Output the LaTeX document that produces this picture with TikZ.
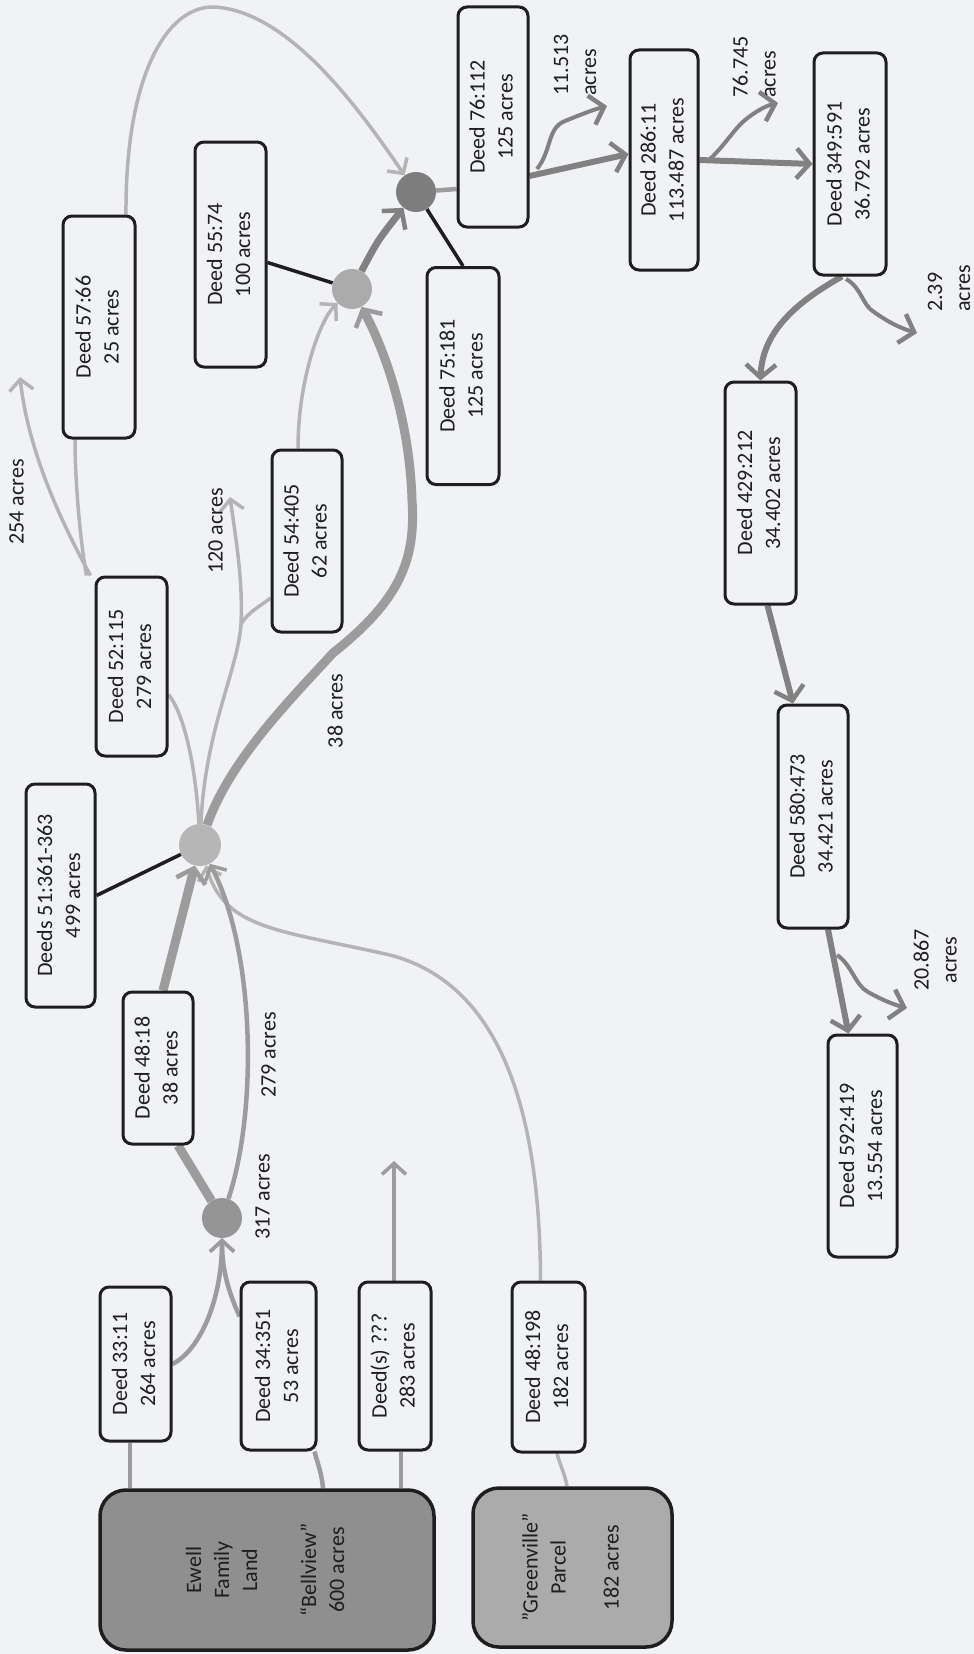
\documentclass[tikz,border=0pt]{standalone}
\usepackage{fontspec}
\setmainfont{Carlito}
\usepackage{graphicx}
\usetikzlibrary{arrows.meta}
\pgfdeclarelayer{back}
\pgfdeclarelayer{lines}
\pgfsetlayers{back,lines,main}
\definecolor{bg}{HTML}{F1F2F5}
\definecolor{lightc}{HTML}{B4B4B4}
\definecolor{midc}{HTML}{9C9C9C}
\definecolor{darkc}{HTML}{818181}
\definecolor{ink}{HTML}{1E1E1E}
\definecolor{ewellfill}{HTML}{8F8F8F}
\definecolor{greenfill}{HTML}{ABABAB}
\definecolor{jonec}{HTML}{959595}
\definecolor{jtwoc}{HTML}{B6B6B6}
\definecolor{jthreec}{HTML}{ABABAB}
\definecolor{jfourc}{HTML}{7D7D7D}
\newcommand{\rt}[2][c]{\rotatebox{90}{\begin{tabular}{@{}#1@{}}#2\end{tabular}}}
\begin{document}
\begin{tikzpicture}[x=1pt,y=1pt,
  font=\fontsize{22}{28}\selectfont,
  deedbox/.style={draw=ink, line width=3pt, rounded corners=9pt, fill=bg, inner sep=0pt, text=ink},
  landbox/.style={draw=ink, line width=3.5pt, rounded corners=26pt, inner sep=0pt, text=ink},
  junc/.style={circle, inner sep=0pt, minimum size=40pt},
  lbl/.style={inner sep=0pt, text=ink},
  tip/.style={-{Straight Barb[length=11pt,width=24pt,line width=3.5pt]}},
  bigtip/.style={-{Straight Barb[length=13pt,width=30pt,line width=4.5pt]}},
  lightln/.style={draw=lightc, line width=3.5pt},
  midln/.style={draw=midc, line width=4.5pt},
  thickln/.style={draw=midc, line width=9pt},
  thickdark/.style={draw=darkc, line width=7pt},
  darkln/.style={draw=darkc, line width=6pt},
  waveln/.style={draw=darkc, line width=4pt},
  blackln/.style={draw=ink, line width=3.5pt}]
\begin{pgfonlayer}{back}
\fill[bg] (0,0) rectangle (974,-1654);
\end{pgfonlayer}
\useasboundingbox (0,0) rectangle (974,-1654);

% land boxes
\node[landbox, fill=ewellfill, minimum width=334pt, minimum height=160pt] (ewell) at (267,-1570)
  {\rt{Ewell\\Family\\Land\\[31pt]“Bellview”\\600 acres}};
\node[landbox, fill=greenfill, minimum width=199pt, minimum height=159pt] (green) at (572.5,-1567.5)
  {\rt{”Greenville”\\Parcel\\[25pt]182 acres}};

% deed boxes
\node[deedbox, minimum width=71pt, minimum height=154pt] (d3311) at (135.5,-1364) {\rt{Deed 33:11\\264 acres}};
\node[deedbox, minimum width=75pt, minimum height=168pt] (d34351) at (278.5,-1366) {\rt{Deed 34:351\\53 acres}};
\node[deedbox, minimum width=72pt, minimum height=168pt] (dq) at (395,-1366) {\rt{Deed(s) ???\\283 acres}};
\node[deedbox, minimum width=73pt, minimum height=170pt] (d48198) at (548.5,-1367) {\rt{Deed 48:198\\182 acres}};
\node[deedbox, minimum width=70pt, minimum height=152pt] (d4818) at (158,-1068) {\rt{Deed 48:18\\38 acres}};
\node[deedbox, minimum width=69pt, minimum height=223pt] (d51) at (60.5,-895.5) {\rt{Deeds 51:361-363\\499 acres}};
\node[deedbox, minimum width=71pt, minimum height=179pt] (d52) at (131.5,-666.5) {\rt{Deed 52:115\\279 acres}};
\node[deedbox, minimum width=70pt, minimum height=182pt] (d54) at (307,-541) {\rt{Deed 54:405\\62 acres}};
\node[deedbox, minimum width=72pt, minimum height=222pt] (d57) at (99,-327) {\rt{Deed 57:66\\25 acres}};
\node[deedbox, minimum width=71pt, minimum height=225pt] (d55) at (230.5,-254.5) {\rt{Deed 55:74\\100 acres}};
\node[deedbox, minimum width=72pt, minimum height=217pt] (d75) at (463,-376) {\rt{Deed 75:181\\125 acres}};
\node[deedbox, minimum width=70pt, minimum height=220pt] (d76) at (493,-117) {\rt{Deed 76:112\\125 acres}};
\node[deedbox, minimum width=68pt, minimum height=220pt] (d286) at (664,-160) {\rt{Deed 286:11\\113.487 acres}};
\node[deedbox, minimum width=72pt, minimum height=222pt] (d349) at (850,-164) {\rt{Deed 349:591\\36.792 acres}};
\node[deedbox, minimum width=71pt, minimum height=222pt] (d429) at (760.5,-493) {\rt{Deed 429:212\\34.402 acres}};
\node[deedbox, minimum width=70pt, minimum height=223pt] (d580) at (813,-816.5) {\rt{Deed 580:473\\34.421 acres}};
\node[deedbox, minimum width=69pt, minimum height=222pt] (d592) at (862.5,-1146) {\rt{Deed 592:419\\13.554 acres}};

% junctions
\node[junc, fill=jonec] (j1) at (222,-1218) {};
\node[junc, fill=jtwoc, minimum size=42pt] (j2) at (200,-845) {};
\node[junc, fill=jthreec] (j3) at (352,-289) {};
\node[junc, fill=jfourc] (j4) at (416,-192) {};

% labels
\node[lbl] (l317) at (264,-1197) {\rt{317 acres}};
\node[lbl] (l279) at (270,-1055) {\rt{279 acres}};
\node[lbl] (l38) at (337,-711) {\rt{38 acres}};
\node[lbl] (l120) at (217,-531) {\rt{120 acres}};
\node[lbl] (l254) at (18,-502) {\rt{254 acres}};
\node[lbl, anchor=south] (l11513) at (576.5,-96) {\rt[l]{11.513\\acres}};
\node[lbl, anchor=south] (l76745) at (756,-98) {\rt[l]{76.745\\acres}};
\node[lbl, anchor=south] (l239) at (950.5,-312) {\rt[l]{2.39\\acres}};
\node[lbl] (l20867) at (937,-960) {\rt{20.867\\acres}};

% free ends
\coordinate (tq) at (394,-1161);
\coordinate (br120) at (241,-624);
\coordinate (t120) at (230,-497);
\coordinate (t254) at (20,-377);
\coordinate (b1) at (537,-169);
\coordinate (t1) at (607,-106);
\coordinate (b2) at (710,-159);
\coordinate (t2) at (778,-103);
\coordinate (b3) at (846,-279);
\coordinate (t3) at (917,-333);
\coordinate (b4) at (837,-955);
\coordinate (t4) at (907,-1008);

\begin{pgfonlayer}{lines}
% from the land
\draw[midln] ([xshift=-137]ewell.north) -- ([xshift=-5.5]d3311.south);
\draw[midln] ([xshift=56]ewell.north) to[out=95,in=-75] ([xshift=36]d34351.south);
\draw[midln] ([xshift=134]ewell.north) -- ([xshift=6]dq.south);
\draw[midln, tip] ([xshift=-1]dq.north) -- (tq);
\draw[lightln] ([xshift=-5.5]green.north) to[out=100,in=-75] ([xshift=8.5]d48198.south);
\draw[lightln, tip] ([xshift=-8]d48198.north) .. controls (540,-1120) and (505,-985) .. (390,-955)
  .. controls (280,-930) and (225,-930) .. (j2);
% into junction 1
\draw[midln, tip] (d3311.east) .. controls (200,-1350) and (222,-1300) .. (j1);
\draw[midln, tip] ([yshift=-36]d34351.north west) .. controls (228,-1290) and (222,-1270) .. (j1);
% junction 1 to junction 2
\draw[thickln] (j1) -- ([xshift=20]d4818.south);
\draw[thickln, bigtip] ([xshift=5]d4818.north) -- (j2);
\draw[midln, tip] (j1) .. controls (258,-1110) and (255,-950) .. (j2);
\draw[blackln] (d51.east) -- (j2);
% out of junction 2
\draw[lightln] (j2) .. controls (196,-770) and (185,-715) .. ([yshift=-28]d52.east);
\draw[lightln, tip] (j2) .. controls (205,-730) and (238,-670) .. (br120)
  .. controls (243,-580) and (236,-540) .. (t120);
\draw[lightln] ([yshift=-57]d54.west) .. controls (262,-605) and (248,-612) .. (br120);
\draw[lightln, tip] ([xshift=-9]d54.north) .. controls (298,-380) and (320,-320) .. (j3);
\draw[thickln, bigtip] (j2) .. controls (230,-760) and (290,-700) .. (333,-653)
  .. controls (400,-600) and (416,-560) .. (412,-500)
  .. controls (410,-430) and (390,-360) .. (j3);
\draw[lightln, tip] ([xshift=-41]d52.north) .. controls (60,-520) and (28,-450) .. (t254);
\draw[lightln] ([xshift=-45]d52.north) .. controls (80,-540) and (75,-480) .. ([xshift=-24]d57.south);
\draw[lightln, tip] ([xshift=27]d57.north) .. controls (125,-80) and (165,-5) .. (215,-7)
  .. controls (290,-12) and (360,-110) .. (j4);
% junctions 3 and 4
\draw[blackln] ([yshift=-8]d55.east) -- (j3);
\draw[thickdark, bigtip] (j3) .. controls (378,-240) .. (j4);
\draw[blackln] (d75.north) -- (j4);
\draw[midln] (j4) -- ([yshift=-72]d76.west);
% the chain
\draw[darkln, bigtip] ([yshift=-59]d76.east) -- ([yshift=6]d286.west);
\draw[waveln, bigtip] (b1) .. controls (552,-150) and (547,-128) .. (565,-121)
  .. controls (580,-115) and (592,-110) .. (t1);
\draw[darkln, bigtip] (d286.east) -- (d349.west);
\draw[waveln, bigtip] (b2) .. controls (725,-145) and (735,-128) .. (745,-120)
  .. controls (755,-112) and (765,-106) .. (t2);
\draw[darkln, bigtip] ([xshift=-8]d349.south) .. controls (800,-300) and (762,-330) .. (d429.north);
\draw[waveln, bigtip] (b3) .. controls (862,-288) and (862,-305) .. (874,-312)
  .. controls (888,-322) and (900,-328) .. (t3);
\draw[darkln, bigtip] ([xshift=7]d429.south) -- ([xshift=-20]d580.north);
\draw[darkln, bigtip] ([xshift=15]d580.south) -- ([xshift=-14]d592.north);
\draw[waveln, bigtip] (b4) .. controls (852,-965) and (855,-985) .. (868,-992)
  .. controls (882,-1000) and (895,-1005) .. (t4);
\end{pgfonlayer}
\end{tikzpicture}
\end{document}
